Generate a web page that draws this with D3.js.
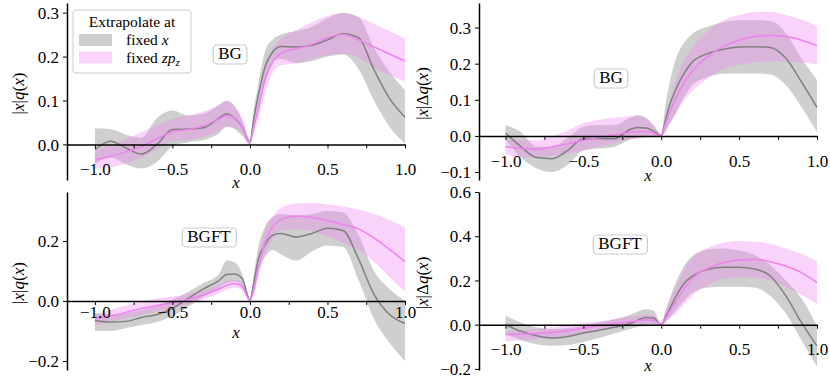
<!DOCTYPE html>
<html>
<head>
<meta charset="utf-8">
<script src="https://cdn.jsdelivr.net/npm/d3@7"></script>
<style>
body { margin: 0; background: #fff; }
svg { display: block; font-family: 'Liberation Serif', 'Times New Roman', serif; }
</style>
</head>
<body>
<svg width="830" height="382"></svg>
<script>
// x grid shared by every curve
const xs = [-1, -0.9, -0.8, -0.7, -0.6, -0.5, -0.4, -0.3, -0.2, -0.15, -0.1, -0.05, 0, 0.025, 0.05, 0.1, 0.15, 0.2, 0.3, 0.4, 0.5, 0.6, 0.7, 0.8, 0.9, 1.0]

// BG, |x|q(x)
const qBgX   = [-0.012, 0.007, -0.008, -0.022, 0.0, 0.034, 0.035, 0.038, 0.06, 0.07, 0.06, 0.04, 0.005, 0.06, 0.105, 0.18, 0.212, 0.223, 0.222, 0.226, 0.238, 0.252, 0.243, 0.17, 0.105, 0.062]
const qBgXLo = [-0.045, -0.03, -0.045, -0.055, -0.04, -0.005, 0.005, 0.01, 0.025, 0.04, 0.035, 0.02, 0.0, 0.04, 0.08, 0.15, 0.19, 0.195, 0.185, 0.19, 0.2, 0.205, 0.172, 0.1, 0.04, 0.002]
const qBgXHi = [0.037, 0.035, 0.022, 0.015, 0.06, 0.077, 0.066, 0.07, 0.09, 0.1, 0.088, 0.055, 0.01, 0.08, 0.13, 0.215, 0.24, 0.25, 0.258, 0.268, 0.287, 0.3, 0.29, 0.22, 0.165, 0.124]
const qBgZ   = [-0.035, -0.027, -0.017, -0.005, 0.013, 0.029, 0.034, 0.042, 0.058, 0.066, 0.06, 0.04, 0.005, 0.04, 0.075, 0.15, 0.19, 0.207, 0.218, 0.228, 0.243, 0.25, 0.238, 0.222, 0.206, 0.19]
const qBgZLo = [-0.055, -0.052, -0.044, -0.03, -0.012, 0.008, 0.01, 0.017, 0.03, 0.04, 0.038, 0.025, 0.0, 0.025, 0.05, 0.12, 0.165, 0.18, 0.185, 0.195, 0.203, 0.207, 0.198, 0.175, 0.158, 0.143]
const qBgZHi = [-0.013, -0.002, 0.012, 0.028, 0.044, 0.058, 0.066, 0.075, 0.09, 0.098, 0.085, 0.06, 0.01, 0.055, 0.1, 0.18, 0.22, 0.24, 0.26, 0.278, 0.293, 0.298, 0.29, 0.274, 0.258, 0.241]

// BG, |x|Δq(x)
const dqBgX   = [0.008, -0.03, -0.06, -0.063, -0.04, -0.008, -0.007, -0.008, 0.018, 0.023, 0.022, 0.014, 0.0, 0.04, 0.08, 0.135, 0.175, 0.205, 0.228, 0.24, 0.246, 0.247, 0.245, 0.215, 0.15, 0.079]
const dqBgXLo = [-0.01, -0.06, -0.09, -0.1, -0.08, -0.04, -0.035, -0.03, -0.01, -0.005, 0.0, 0.0, 0.0, 0.01, 0.03, 0.07, 0.11, 0.14, 0.163, 0.172, 0.173, 0.173, 0.17, 0.14, 0.08, 0.01]
const dqBgXHi = [0.03, 0.01, -0.03, -0.03, -0.005, 0.025, 0.03, 0.03, 0.05, 0.056, 0.05, 0.03, 0.005, 0.08, 0.14, 0.22, 0.26, 0.283, 0.303, 0.315, 0.32, 0.32, 0.318, 0.285, 0.215, 0.155]
const dqBgZ   = [-0.03, -0.035, -0.037, -0.03, -0.022, -0.012, -0.005, 0.003, 0.01, 0.012, 0.012, 0.008, 0.0, 0.03, 0.06, 0.11, 0.15, 0.18, 0.22, 0.248, 0.265, 0.275, 0.278, 0.275, 0.265, 0.25]
const dqBgZLo = [-0.05, -0.06, -0.06, -0.055, -0.05, -0.04, -0.03, -0.02, -0.01, -0.008, -0.005, -0.003, 0.0, 0.01, 0.03, 0.065, 0.1, 0.125, 0.16, 0.185, 0.197, 0.203, 0.206, 0.206, 0.203, 0.198]
const dqBgZHi = [-0.01, -0.012, -0.012, 0.0, 0.015, 0.035, 0.045, 0.05, 0.055, 0.058, 0.05, 0.03, 0.005, 0.05, 0.09, 0.16, 0.21, 0.245, 0.29, 0.32, 0.335, 0.343, 0.344, 0.335, 0.322, 0.305]

// BGFT, |x|q(x)
const qFtX   = [-0.065, -0.07, -0.068, -0.055, -0.045, -0.025, 0.008, 0.04, 0.068, 0.088, 0.09, 0.075, 0.003, 0.06, 0.13, 0.19, 0.22, 0.225, 0.213, 0.225, 0.242, 0.235, 0.14, 0.022, -0.045, -0.075]
const qFtXLo = [-0.1, -0.1, -0.09, -0.08, -0.07, -0.05, -0.02, 0.015, 0.045, 0.06, 0.065, 0.05, 0.0, 0.03, 0.09, 0.15, 0.17, 0.155, 0.135, 0.165, 0.185, 0.18, 0.07, -0.06, -0.14, -0.2]
const qFtXHi = [-0.04, -0.045, -0.04, -0.03, -0.015, 0.005, 0.03, 0.06, 0.09, 0.135, 0.13, 0.09, 0.005, 0.09, 0.17, 0.25, 0.28, 0.29, 0.285, 0.29, 0.3, 0.295, 0.22, 0.1, 0.04, 0.0]
const qFtZ   = [-0.06, -0.05, -0.038, -0.025, -0.015, -0.006, 0.005, 0.02, 0.04, 0.052, 0.058, 0.048, 0.003, 0.04, 0.1, 0.2, 0.25, 0.272, 0.283, 0.278, 0.268, 0.255, 0.24, 0.21, 0.172, 0.131]
const qFtZLo = [-0.08, -0.07, -0.058, -0.045, -0.035, -0.025, -0.012, 0.005, 0.025, 0.038, 0.045, 0.035, 0.0, 0.02, 0.07, 0.16, 0.21, 0.235, 0.24, 0.232, 0.215, 0.195, 0.17, 0.13, 0.08, 0.03]
const qFtZHi = [-0.045, -0.03, -0.015, -0.003, 0.008, 0.015, 0.022, 0.035, 0.055, 0.068, 0.07, 0.06, 0.005, 0.07, 0.14, 0.24, 0.285, 0.31, 0.325, 0.327, 0.322, 0.315, 0.305, 0.29, 0.27, 0.245]

// BGFT, |x|Δq(x)
const dqFtX   = [0.0, -0.03, -0.05, -0.06, -0.053, -0.038, -0.025, -0.012, 0.005, 0.02, 0.032, 0.03, 0.0, 0.03, 0.065, 0.135, 0.19, 0.22, 0.25, 0.26, 0.26, 0.252, 0.22, 0.13, 0.01, -0.097]
const dqFtXLo = [-0.04, -0.07, -0.088, -0.095, -0.092, -0.078, -0.06, -0.04, -0.02, -0.01, -0.005, -0.002, 0.0, 0.01, 0.03, 0.07, 0.11, 0.145, 0.168, 0.172, 0.172, 0.168, 0.13, 0.05, -0.07, -0.19]
const dqFtXHi = [0.04, 0.01, -0.012, -0.02, -0.015, -0.005, 0.01, 0.025, 0.045, 0.06, 0.07, 0.065, 0.005, 0.06, 0.11, 0.2, 0.27, 0.31, 0.34, 0.345, 0.335, 0.315, 0.27, 0.2, 0.12, -0.005]
const dqFtZ   = [-0.045, -0.043, -0.04, -0.035, -0.027, -0.016, -0.005, 0.005, 0.013, 0.018, 0.022, 0.02, 0.0, 0.025, 0.055, 0.11, 0.165, 0.21, 0.255, 0.28, 0.293, 0.295, 0.285, 0.265, 0.235, 0.19]
const dqFtZLo = [-0.075, -0.07, -0.065, -0.06, -0.052, -0.04, -0.028, -0.015, -0.005, 0.0, 0.003, 0.003, 0.0, 0.01, 0.025, 0.055, 0.095, 0.13, 0.18, 0.208, 0.215, 0.213, 0.2, 0.17, 0.135, 0.092]
const dqFtZHi = [-0.03, -0.025, -0.02, -0.012, -0.003, 0.007, 0.015, 0.025, 0.035, 0.042, 0.045, 0.04, 0.005, 0.05, 0.1, 0.18, 0.25, 0.3, 0.348, 0.37, 0.378, 0.375, 0.365, 0.345, 0.32, 0.287]

const xTicks = [-1, -0.75, -0.5, -0.25, 0, 0.25, 0.5, 0.75, 1]
const yTicksQBg = [0, 0.1, 0.2, 0.3]
const yTicksDqBg = [-0.1, 0, 0.1, 0.2, 0.3]
const yTicksQFt = [-0.2, 0, 0.2]
const yTicksDqFt = [-0.2, 0, 0.2, 0.4, 0.6]

const seriesNames = ['fixed x', 'fixed zp_z']
const grayCol = '#808080'
const violetCol = '#ee82ee'
const serif = "'Liberation Serif', 'Times New Roman', serif"

const panels = [
	{left: 67, right: 405, top: 3, bottom: 180, xd: [-1.18, 1], yd: [-0.081, 0.322], yt: yTicksQBg, lab: 'q',
		tag: 'BG', tagX: 230, tagY: 59, tickDy: 31, xlabY: 188, ylabX: 24,
		x: [qBgX, qBgXLo, qBgXHi], z: [qBgZ, qBgZLo, qBgZHi]},
	{left: 479, right: 817, top: 3, bottom: 180, xd: [-1.17, 1], yd: [-0.122, 0.368], yt: yTicksDqBg, lab: 'dq',
		tag: 'BG', tagX: 611, tagY: 83, tickDy: 31, xlabY: 181, ylabX: 428,
		x: [dqBgX, dqBgXLo, dqBgXHi], z: [dqBgZ, dqBgZLo, dqBgZHi]},
	{left: 67, right: 405, top: 192, bottom: 370, xd: [-1.18, 1], yd: [-0.23, 0.363], yt: yTicksQFt, lab: 'q',
		tag: 'BGFT', tagX: 209, tagY: 242, tickDy: 17, xlabY: 338, ylabX: 24,
		x: [qFtX, qFtXLo, qFtXHi], z: [qFtZ, qFtZLo, qFtZHi]},
	{left: 479, right: 817, top: 192, bottom: 370, xd: [-1.17, 1], yd: [-0.205, 0.6], yt: yTicksDqFt, lab: 'dq',
		tag: 'BGFT', tagX: 620, tagY: 249, tickDy: 30, xlabY: 371, ylabX: 428,
		x: [dqFtX, dqFtXLo, dqFtXHi], z: [dqFtZ, dqFtZLo, dqFtZHi]}
]

let svg = d3.select('svg')
let fmt = d3.format('.1f')

panels.forEach(p => {
	let scX = d3.scaleLinear().domain(p.xd).range([p.left, p.right])
	let scY = d3.scaleLinear().domain(p.yd).range([p.bottom, p.top])
	let g = svg.append('g')

	let area = d3.area().curve(d3.curveMonotoneX)
	.x(d => scX(d.x)).y0(d => scY(d.lo)).y1(d => scY(d.hi))
	let line = d3.line().curve(d3.curveMonotoneX)
	.x(d => scX(d.x)).y(d => scY(d.m))

	let rows = s => xs.map((x, i) => ({x: x, m: s[0][i], lo: s[1][i], hi: s[2][i]}))
	let sets = [
		{rows: rows(p.x), col: grayCol, op: 0.38},
		{rows: rows(p.z), col: violetCol, op: 0.35}
	]

	g.selectAll('path.band')
	.data(sets).enter()
	.append('path').attr('class', 'band')
	.attr('d', d => area(d.rows))
	.attr('fill', d => d.col)
	.attr('fill-opacity', d => d.op)

	g.selectAll('path.mean')
	.data(sets).enter()
	.append('path').attr('class', 'mean')
	.attr('d', d => line(d.rows))
	.attr('fill', 'none')
	.attr('stroke', d => d.col)
	.attr('stroke-width', 1.5)

	// x axis sits on y = 0
	let ax = g.append('g')
	.attr('transform', `translate(0,${scY(0)})`)
	.call(d3.axisBottom(scX).tickValues(xTicks).tickSize(4).tickSizeOuter(0)
		.tickFormat(v => Math.abs(v * 2 - Math.round(v * 2)) < 1e-9 ? fmt(v) : ''))
	.attr('font-family', serif).attr('font-size', 17)
	ax.select('.domain').attr('stroke-width', 1.5)
	ax.selectAll('.tick line').attr('stroke-width', 1)
	ax.selectAll('.tick text')
	.attr('y', null).attr('dy', p.tickDy)
	.style('font-family', serif)

	let ay = g.append('g')
	.attr('transform', `translate(${p.left},0)`)
	.call(d3.axisLeft(scY).tickValues(p.yt).tickSize(4).tickSizeOuter(0).tickFormat(fmt))
	.attr('font-family', serif).attr('font-size', 17)
	ay.select('.domain').attr('stroke-width', 1.5)
	ay.selectAll('.tick line').attr('stroke-width', 1)
	ay.selectAll('.tick text')
	.attr('x', -8).attr('dy', '0.33em')
	.style('font-family', serif)

	// axis labels
	g.append('text')
	.attr('x', (p.left + p.right) / 2).attr('y', p.xlabY)
	.attr('text-anchor', 'middle').attr('font-size', 17)
	.attr('font-style', 'italic').text('x')

	let yl = g.append('text')
	.attr('transform', `translate(${p.ylabX},${(p.top + p.bottom) / 2 + 2}) rotate(-90)`)
	.attr('text-anchor', 'middle').attr('font-size', 17)
	let parts = p.lab === 'q'
		? [['|', 0], ['x', 1], ['|', 0], ['q', 1], ['(', 0], ['x', 1], [')', 0]]
		: [['|', 0], ['x', 1], ['|', 0], ['Δ', 0], ['q', 1], ['(', 0], ['x', 1], [')', 0]]
	parts.forEach(t => {
		yl.append('tspan').attr('font-style', t[1] ? 'italic' : 'normal').text(t[0])
	})

	// tag box
	let tg = g.append('g')
	let tt = tg.append('text')
	.attr('x', p.tagX).attr('y', p.tagY)
	.attr('text-anchor', 'middle').attr('font-size', 17)
	.text(p.tag)
	let bb = tt.node().getBBox()
	tg.insert('rect', 'text')
	.attr('x', bb.x - 5).attr('y', bb.y + 1)
	.attr('width', bb.width + 10).attr('height', bb.height)
	.attr('rx', 4)
	.attr('fill', '#fff').attr('fill-opacity', 0.8)
	.attr('stroke', '#cccccc').attr('stroke-width', 1.2)
})

// legend, top-left panel
let lg = svg.append('g')
lg.append('rect')
.attr('x', 73).attr('y', 10).attr('width', 118).attr('height', 63).attr('rx', 3)
.attr('fill', '#fff').attr('fill-opacity', 0.8)
.attr('stroke', '#cccccc').attr('stroke-width', 1)
lg.append('text')
.attr('x', 132).attr('y', 27).attr('text-anchor', 'middle').attr('font-size', 15.5)
.text('Extrapolate at')

let lcols = [[grayCol, 0.38], [violetCol, 0.35]]
seriesNames.forEach((name, i) => {
	let y = 34 + i * 17.5
	lg.append('rect')
	.attr('x', 79).attr('y', y).attr('width', 33).attr('height', 12)
	.attr('fill', lcols[i][0]).attr('fill-opacity', lcols[i][1])
	let t = lg.append('text').attr('x', 126).attr('y', y + 11).attr('font-size', 15.5)
	t.append('tspan').text('fixed ')
	if (i === 0) {
		t.append('tspan').attr('font-style', 'italic').text('x')
	} else {
		t.append('tspan').attr('font-style', 'italic').text('zp')
		t.append('tspan').attr('font-style', 'italic').attr('font-size', 11).attr('dy', 3).text('z')
	}
})
</script>
</body>
</html>
